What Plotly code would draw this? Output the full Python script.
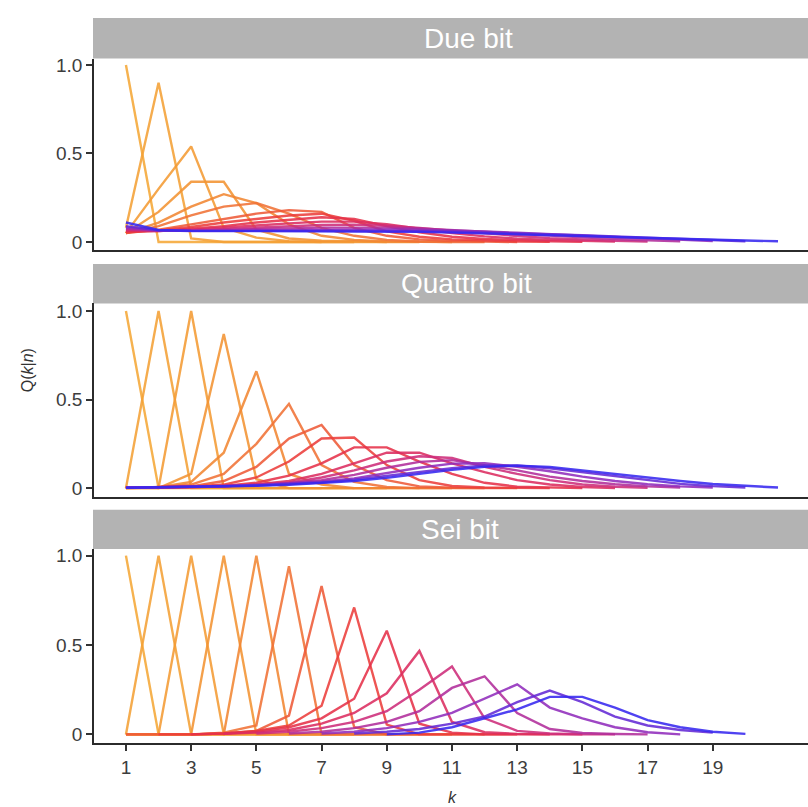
import plotly.graph_objects as go

# Q(k|n) for numerosities n = 1..15, one list per n, listed from its first k.
K_TICKS = [1, 3, 5, 7, 9, 11, 13, 15, 17, 19]

DUE_BIT_START = [1] * 15
DUE_BIT = [
    [1.0, 0, 0, 0, 0, 0, 0],
    [0.08, 0.9, 0.02, 0, 0, 0, 0, 0],
    [0.05, 0.3, 0.54, 0.08, 0.025, 0.005, 0, 0, 0],
    [0.05, 0.17, 0.34, 0.34, 0.07, 0.02, 0.008, 0.002, 0, 0],
    [0.05, 0.11, 0.2, 0.27, 0.22, 0.1, 0.035, 0.012, 0.003, 0, 0],
    [0.05, 0.09, 0.15, 0.2, 0.22, 0.16, 0.08, 0.035, 0.012, 0.003, 0, 0],
    [0.05, 0.07, 0.1, 0.13, 0.16, 0.18, 0.17, 0.08, 0.035, 0.015, 0.006, 0.002, 0],
    [0.055, 0.065, 0.085, 0.11, 0.13, 0.15, 0.16, 0.12, 0.06, 0.03, 0.015, 0.007, 0.003, 0.001],
    [0.06, 0.062, 0.075, 0.09, 0.11, 0.125, 0.14, 0.13, 0.09, 0.055, 0.03, 0.017, 0.009, 0.004, 0.001],
    [0.065, 0.062, 0.07, 0.08, 0.093, 0.105, 0.115, 0.115, 0.1, 0.075, 0.05, 0.032, 0.019, 0.011, 0.006, 0.002],
    [0.07, 0.063, 0.066, 0.073, 0.082, 0.09, 0.096, 0.098, 0.092, 0.08, 0.064, 0.048, 0.034, 0.022, 0.013, 0.007, 0.002],
    [0.075, 0.064, 0.064, 0.067, 0.072, 0.077, 0.081, 0.083, 0.081, 0.076, 0.068, 0.058, 0.047, 0.036, 0.026, 0.017, 0.01, 0.004],
    [0.082, 0.065, 0.063, 0.064, 0.066, 0.069, 0.071, 0.072, 0.071, 0.069, 0.065, 0.059, 0.052, 0.044, 0.036, 0.027, 0.019, 0.011, 0.005],
    [0.09, 0.066, 0.062, 0.061, 0.062, 0.063, 0.064, 0.064, 0.063, 0.061, 0.058, 0.054, 0.049, 0.044, 0.038, 0.031, 0.024, 0.017, 0.01, 0.004],
    [0.11, 0.068, 0.063, 0.062, 0.062, 0.062, 0.062, 0.061, 0.06, 0.057, 0.053, 0.048, 0.043, 0.039, 0.034, 0.029, 0.023, 0.017, 0.012, 0.007, 0.004],
]

QUATTRO_BIT_START = [1] * 15
QUATTRO_BIT = [
    [1.0, 0, 0, 0, 0, 0, 0],
    [0, 1.0, 0, 0, 0, 0, 0, 0],
    [0, 0, 1.0, 0, 0, 0, 0, 0, 0],
    [0, 0, 0.08, 0.87, 0.05, 0, 0, 0, 0, 0],
    [0, 0.005, 0.035, 0.2, 0.66, 0.08, 0.02, 0, 0, 0, 0],
    [0, 0.003, 0.02, 0.08, 0.25, 0.476, 0.13, 0.035, 0.006, 0, 0, 0],
    [0.002, 0.004, 0.01, 0.04, 0.12, 0.28, 0.357, 0.13, 0.045, 0.01, 0.002, 0, 0],
    [0.002, 0.004, 0.008, 0.02, 0.06, 0.15, 0.28, 0.286, 0.13, 0.045, 0.012, 0.003, 0, 0],
    [0.002, 0.004, 0.007, 0.012, 0.03, 0.07, 0.14, 0.23, 0.23, 0.15, 0.08, 0.03, 0.008, 0.002, 0],
    [0.002, 0.003, 0.006, 0.01, 0.02, 0.04, 0.08, 0.14, 0.2, 0.2, 0.14, 0.09, 0.045, 0.02, 0.006, 0.001],
    [0.002, 0.003, 0.005, 0.01, 0.02, 0.03, 0.06, 0.1, 0.15, 0.18, 0.17, 0.12, 0.08, 0.045, 0.02, 0.008, 0.002],
    [0.002, 0.004, 0.008, 0.012, 0.018, 0.028, 0.045, 0.075, 0.115, 0.148, 0.158, 0.13, 0.1, 0.065, 0.04, 0.022, 0.01, 0.003],
    [0.002, 0.004, 0.008, 0.012, 0.017, 0.025, 0.037, 0.055, 0.085, 0.115, 0.138, 0.14, 0.12, 0.095, 0.065, 0.04, 0.022, 0.01, 0.003],
    [0.002, 0.004, 0.007, 0.01, 0.015, 0.022, 0.032, 0.047, 0.068, 0.092, 0.113, 0.128, 0.128, 0.112, 0.09, 0.065, 0.042, 0.024, 0.011, 0.003],
    [0.002, 0.004, 0.006, 0.009, 0.013, 0.019, 0.028, 0.04, 0.058, 0.08, 0.103, 0.12, 0.127, 0.12, 0.1, 0.08, 0.058, 0.04, 0.023, 0.012, 0.003],
]

SEI_BIT_START = [1, 1, 1, 1, 1, 1, 1, 2, 3, 4, 5, 6, 7, 8, 9]
SEI_BIT = [
    [1.0, 0, 0, 0, 0, 0],
    [0, 1.0, 0, 0, 0, 0, 0],
    [0, 0, 1.0, 0, 0, 0, 0, 0],
    [0, 0, 0, 1.0, 0, 0, 0, 0, 0],
    [0, 0, 0, 0, 1.0, 0, 0, 0, 0, 0],
    [0, 0, 0, 0.01, 0.05, 0.94, 0, 0, 0, 0, 0],
    [0, 0, 0, 0.005, 0.02, 0.105, 0.83, 0.04, 0, 0, 0, 0],
    [0, 0, 0.005, 0.02, 0.05, 0.16, 0.71, 0.055, 0, 0, 0, 0],
    [0, 0.005, 0.015, 0.04, 0.09, 0.2, 0.58, 0.06, 0.01, 0, 0, 0],
    [0.003, 0.01, 0.025, 0.06, 0.12, 0.23, 0.467, 0.07, 0.012, 0.003, 0, 0],
    [0.005, 0.015, 0.035, 0.07, 0.13, 0.25, 0.38, 0.09, 0.02, 0.005, 0, 0],
    [0.005, 0.015, 0.035, 0.07, 0.13, 0.26, 0.325, 0.12, 0.03, 0.008, 0.002, 0],
    [0.005, 0.015, 0.035, 0.07, 0.12, 0.2, 0.28, 0.15, 0.09, 0.04, 0.012, 0],
    [0.005, 0.015, 0.03, 0.06, 0.1, 0.18, 0.245, 0.18, 0.1, 0.05, 0.025, 0.01],
    [0.0, 0.01, 0.04, 0.09, 0.14, 0.21, 0.21, 0.15, 0.08, 0.04, 0.015, 0.003],
]

PANELS = [
    ("Due bit", DUE_BIT_START, DUE_BIT),
    ("Quattro bit", QUATTRO_BIT_START, QUATTRO_BIT),
    ("Sei bit", SEI_BIT_START, SEI_BIT),
]

# orange -> red -> magenta -> blue ramp over n
STOPS = [
    (0.00, (245, 168, 55)),
    (0.25, (243, 145, 50)),
    (0.40, (240, 102, 55)),
    (0.50, (236, 62, 60)),
    (0.60, (228, 45, 80)),
    (0.72, (205, 45, 125)),
    (0.85, (150, 45, 185)),
    (1.00, (55, 40, 240)),
]


def ramp(t):
    for (t0, c0), (t1, c1) in zip(STOPS[:-1], STOPS[1:]):
        if t <= t1:
            f = (t - t0) / (t1 - t0)
            r, g, b = (round(a + (b_ - a) * f) for a, b_ in zip(c0, c1))
            return f"rgb({r},{g},{b})"
    r, g, b = STOPS[-1][1]
    return f"rgb({r},{g},{b})"


W, H = 808, 807
X_LEFT = 94
# pixel layout of each panel: (strip top, plot top, plot bottom, title centre x)
LAYOUT_PX = [(14, 55, 248, 469), (262, 301.7, 497, 467), (509.5, 549, 745, 460)]
Y_RANGES = [(-0.046, 1.036), (-0.052, 1.043), (-0.0506, 1.0375)]

fig = go.Figure()
shapes, annotations = [], []
axis_font = dict(family="Liberation Sans, Arial, sans-serif", size=19, color="#3d3d3d")

for p, (title, starts, curves) in enumerate(PANELS):
    xa = "x" if p == 0 else f"x{p + 1}"
    ya = "y" if p == 0 else f"y{p + 1}"
    n_curves = len(curves)
    for i, (s, q) in enumerate(zip(starts, curves)):
        ks = list(range(s, s + len(q)))
        fig.add_trace(go.Scatter(
            x=ks, y=q, mode="lines", xaxis=xa, yaxis=ya,
            line=dict(color=ramp(i / (n_curves - 1)), width=2.4),
            opacity=0.88, showlegend=False, hoverinfo="skip",
        ))

    strip_top, plot_top, plot_bot, tx = LAYOUT_PX[p]
    dom = [1 - plot_bot / H, 1 - plot_top / H]
    last = p == 2
    fig.layout[f"xaxis{'' if p == 0 else p + 1}"] = dict(
        domain=[X_LEFT / W, 1], range=[0.02, 21.92], anchor=ya,
        showgrid=False, zeroline=False, showline=True,
        linecolor="#2b2b2b", linewidth=1.8,
        tickvals=K_TICKS if last else [], ticks="outside" if last else "",
        ticklen=6, tickwidth=1.6, tickcolor="#333333",
        showticklabels=last, tickfont=axis_font,
    )
    fig.layout[f"yaxis{'' if p == 0 else p + 1}"] = dict(
        domain=dom, range=list(Y_RANGES[p]), anchor=xa,
        showgrid=False, zeroline=False, showline=True,
        linecolor="#2b2b2b", linewidth=1.8,
        tickvals=[0, 0.5, 1.0], ticktext=["0", "0.5", "1.0"],
        ticks="outside", ticklen=6, tickwidth=1.6, tickcolor="#333333",
        tickfont=axis_font,
    )
    shapes.append(dict(
        type="rect", xref="paper", yref="paper",
        x0=(X_LEFT - 1) / W, x1=1, y0=1 - plot_top / H, y1=1 - strip_top / H,
        fillcolor="#b3b3b3", line=dict(width=0), layer="below",
    ))
    annotations.append(dict(
        text=title, xref="paper", yref="paper",
        x=tx / W, y=1 - (strip_top + plot_top) / 2 / H,
        xanchor="center", yanchor="middle", showarrow=False,
        font=dict(family="Liberation Sans, Arial, sans-serif", size=28, color="white"),
    ))

annotations.append(dict(
    text="Q(<i>k</i>|<i>n</i>)", xref="paper", yref="paper",
    x=27 / W, y=1 - 369 / H, textangle=-90, showarrow=False,
    xanchor="center", yanchor="middle",
    font=dict(family="Liberation Sans, Arial, sans-serif", size=16, color="#333333"),
))
annotations.append(dict(
    text="<i>k</i>", xref="paper", yref="paper",
    x=452 / W, y=1 - 799 / H, showarrow=False,
    xanchor="center", yanchor="middle",
    font=dict(family="Liberation Sans, Arial, sans-serif", size=16, color="#333333"),
))

fig.update_layout(
    width=W, height=H, margin=dict(l=0, r=0, t=0, b=0),
    paper_bgcolor="white", plot_bgcolor="white",
    shapes=shapes, annotations=annotations,
)

fig.write_html("out.html")
